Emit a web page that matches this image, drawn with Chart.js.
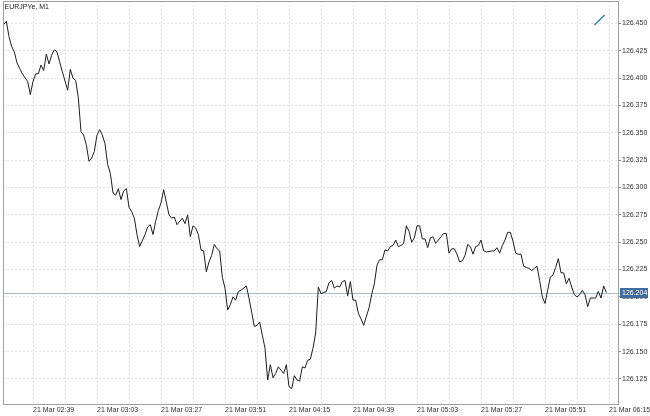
<!DOCTYPE html>
<html><head><meta charset="utf-8">
<script src="https://cdn.jsdelivr.net/npm/chart.js@4.4.1/dist/chart.umd.min.js"></script>
<style>html,body{margin:0;padding:0;background:#fff}#wrap{width:650px;height:416px;position:relative}</style>
</head><body><div id="wrap"><canvas id="c"></canvas></div>
<script>
const symbolTitle = 'EURJPYe, M1';
const datePrefix = '21 Mar';
const times = ['02:28','02:29','02:30','02:31','02:32','02:33','02:34','02:35','02:37','02:38',
'02:39','02:40','02:41','02:42','02:43','02:44','02:45','02:46','02:47','02:48',
'02:49','02:50','02:52','02:53','02:54','02:55','02:56','02:57','02:58','02:59',
'03:00','03:01','03:02','03:03','03:04','03:05','03:06','03:07','03:08','03:09',
'03:10','03:11','03:12','03:13','03:14','03:15','03:16','03:17','03:18','03:19',
'03:21','03:22','03:23','03:24','03:25','03:26','03:27','03:28','03:30','03:31',
'03:32','03:33','03:35','03:36','03:37','03:38','03:39','03:40','03:41','03:42',
'03:43','03:44','03:45','03:46','03:47','03:48','03:49','03:50','03:51','03:52',
'03:53','03:54','03:55','03:56','03:57','03:59','04:00','04:01','04:02','04:03',
'04:04','04:05','04:06','04:07','04:08','04:09','04:10','04:11','04:13','04:14',
'04:15','04:16','04:17','04:18','04:19','04:20','04:21','04:22','04:23','04:24',
'04:25','04:26','04:27','04:28','04:29','04:30','04:31','04:32','04:33','04:34',
'04:35','04:36','04:37','04:38','04:39','04:40','04:41','04:42','04:43','04:44',
'04:45','04:46','04:47','04:48','04:49','04:50','04:51','04:52','04:53','04:54',
'04:55','04:56','04:57','04:58','04:59','05:00','05:01','05:02','05:03','05:04',
'05:05','05:06','05:07','05:08','05:09','05:10','05:12','05:13','05:14','05:15',
'05:16','05:17','05:18','05:19','05:20','05:21','05:22','05:23','05:24','05:25',
'05:26','05:27','05:28','05:29','05:31','05:32','05:33','05:34','05:35','05:36',
'05:37','05:38','05:39','05:40','05:41','05:42','05:43','05:44','05:45','05:46',
'05:47','05:48','05:49','05:50','05:51','05:52','05:53','05:54','05:55','05:56',
'05:57','05:58','05:59','06:00','06:01','06:02','06:03','06:04','06:05','06:06',
'06:07','06:08','06:09','06:10','06:11','06:12','06:13','06:14'];
const closes = [126.449,126.452,126.438,126.429,126.424,126.414,126.409,126.404,126.397,126.385,
126.397,126.404,126.404,126.412,126.407,126.422,126.413,126.421,126.426,126.424,
126.415,126.406,126.389,126.408,126.400,126.398,126.382,126.351,126.348,126.339,
126.324,126.327,126.333,126.348,126.353,126.348,126.340,126.321,126.313,126.295,
126.293,126.299,126.289,126.297,126.299,126.282,126.278,126.272,126.257,126.246,
126.257,126.264,126.266,126.257,126.269,126.279,126.286,126.298,126.275,126.272,
126.273,126.266,126.272,126.267,126.275,126.255,126.265,126.263,126.257,126.243,
126.242,126.223,126.232,126.238,126.248,126.244,126.242,126.218,126.208,126.188,
126.193,126.200,126.197,126.205,126.206,126.210,126.199,126.186,126.173,126.174,
126.177,126.165,126.153,126.124,126.138,126.126,126.130,126.136,126.130,126.138,
126.118,126.116,126.128,126.124,126.123,126.136,126.135,126.142,126.143,126.153,
126.167,126.209,126.203,126.204,126.205,126.213,126.215,126.208,126.210,126.209,
126.214,126.215,126.201,126.214,126.197,126.197,126.185,126.180,126.174,126.182,
126.190,126.202,126.212,126.229,126.234,126.234,126.243,126.242,126.246,126.247,
126.252,126.246,126.247,126.249,126.265,126.260,126.250,126.254,126.265,126.265,
126.253,126.253,126.245,126.254,126.255,126.249,126.255,126.258,126.258,126.240,
126.244,126.244,126.239,126.232,126.233,126.238,126.248,126.246,126.239,126.246,
126.247,126.252,126.242,126.241,126.242,126.242,126.245,126.240,126.247,126.252,
126.259,126.259,126.251,126.240,126.239,126.239,126.228,126.227,126.226,126.224,
126.226,126.228,126.215,126.200,126.194,126.206,126.218,126.220,126.227,126.235,
126.222,126.222,126.212,126.217,126.209,126.202,126.200,126.202,126.206,126.202,
126.191,126.199,126.199,126.199,126.205,126.199,126.210,126.204];
const yTicks = [126.125,126.150,126.175,126.200,126.225,126.250,126.275,126.300,126.325,126.350,126.375,126.400,126.425,126.450];
const xTickTimes = ['02:39','03:03','03:27','03:51','04:15','04:39','05:03','05:27','05:51','06:15'];
const lastPrice = 126.204;

const toMin = s => { const [h, m] = s.split(':').map(Number); return h * 60 + m; };
const fmt = v => { const h = Math.floor(v / 60), m = v % 60; return String(h).padStart(2, '0') + ':' + String(m).padStart(2, '0'); };
const points = times.map((t, i) => ({ x: toMin(t), y: closes[i] }));
const labeled = new Set(xTickTimes.map(toMin));
const X_MIN = 147.75, X_MAX = 378.75, Y_MIN = 126.10115, Y_MAX = 126.47057;

Chart.defaults.font.family = '"Liberation Sans", Arial, Helvetica, sans-serif';

const deco = {
  id: 'deco',
  beforeDatasetsDraw(chart) {
    const { ctx, chartArea: a, scales: { y } } = chart;
    const py = Math.round(y.getPixelForValue(lastPrice)) + 0.5;
    ctx.save();
    ctx.strokeStyle = '#a9bdd0'; ctx.lineWidth = 1;
    ctx.beginPath(); ctx.moveTo(a.left, py); ctx.lineTo(a.right, py); ctx.stroke();
    ctx.restore();
  },
  afterDraw(chart) {
    const { ctx, chartArea: a, scales: { y } } = chart;
    ctx.save();
    ctx.strokeStyle = '#a0a0a0'; ctx.lineWidth = 1;
    ctx.strokeRect(a.left + 0.5, a.top + 0.5, a.right - a.left - 1, a.bottom - a.top - 1);
    ctx.fillStyle = '#222'; ctx.font = '7px "Liberation Sans", Arial, sans-serif';
    ctx.textAlign = 'left'; ctx.textBaseline = 'alphabetic';
    ctx.fillText(symbolTitle, a.left + 1.5, a.top + 8);
    const py = Math.round(y.getPixelForValue(lastPrice));
    ctx.fillStyle = '#3f6c9c';
    ctx.fillRect(a.right + 1, py - 5, 28, 10);
    ctx.fillStyle = '#ffffff'; ctx.textBaseline = 'middle';
    ctx.fillText(lastPrice.toFixed(3), a.right + 3, py + 0.5);
    ctx.strokeStyle = '#2e6fd2'; ctx.lineWidth = 1.2;
    ctx.beginPath(); ctx.moveTo(a.right - 24.5, a.top + 24); ctx.lineTo(a.right - 14.5, a.top + 14); ctx.stroke();
    ctx.restore();
  }
};

new Chart(document.getElementById('c'), {
  type: 'line',
  data: { datasets: [{ data: points, borderColor: '#1e1e1e', borderWidth: 1, pointRadius: 0, tension: 0, fill: false }] },
  options: {
    responsive: true, maintainAspectRatio: false, animation: false, devicePixelRatio: 1,
    layout: { padding: { left: 3, top: 1, right: 0, bottom: 0 } },
    plugins: { legend: { display: false }, tooltip: { enabled: false } },
    scales: {
      x: {
        type: 'linear', min: X_MIN, max: X_MAX,
        afterBuildTicks(s) {
          const t = [];
          xTickTimes.forEach(tt => { const m = toMin(tt); t.push({ value: m }); if (m + 12 < X_MAX) t.push({ value: m + 12 }); });
          s.ticks = t;
        },
        afterFit(s) { s.height = 11; s.paddingLeft = 0; s.paddingRight = 0; },
        ticks: {
          autoSkip: false, maxRotation: 0, minRotation: 0, align: 'start', padding: 1,
          color: '#333', font: { size: 7 },
          callback: v => labeled.has(v) ? datePrefix + ' ' + fmt(v) : ''
        },
        grid: { color: '#e2e2e2', drawTicks: false, lineWidth: 1 },
        border: { display: false, dash: [2, 2] }
      },
      y: {
        position: 'right', min: Y_MIN, max: Y_MAX,
        afterBuildTicks(s) { s.ticks = yTicks.map(v => ({ value: v })); },
        afterFit(s) { s.width = 31; s.paddingTop = 0; s.paddingBottom = 0; },
        ticks: { color: '#333', font: { size: 7 }, padding: 1, callback: v => Number(v).toFixed(3) },
        grid: { color: '#e2e2e2', drawTicks: true, tickLength: 2, tickColor: '#888', tickBorderDash: [], lineWidth: 1 },
        border: { display: false, dash: [2, 2] }
      }
    }
  },
  plugins: [deco]
});
</script>
</body></html>
